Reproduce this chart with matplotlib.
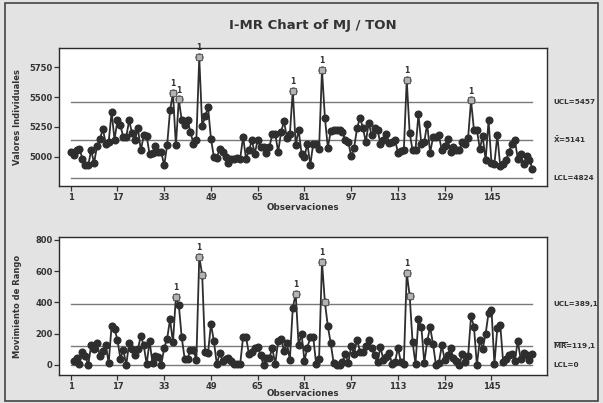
import numpy as np
import matplotlib
matplotlib.use("Agg")
import matplotlib.pyplot as plt
from matplotlib.patches import Rectangle

# ---------------------------------------------------------------
# data read off the I-MR chart (MJ / TON), 159 observations
# ---------------------------------------------------------------
mj_ton = [
    5040, 5013, 5060, 5068, 4985, 4929, 4929, 5054, 4949, 5088,
    5146, 5235, 5110, 5124, 5374, 5143, 5304, 5263, 5165, 5165,
    5304, 5199, 5138, 5240, 5054, 5179, 5174, 5021, 5032, 5088,
    5040, 5038, 4929, 5096, 5388, 5532, 5096, 5480, 5304, 5263,
    5304, 5207, 5110, 5140, 5832, 5254, 5338, 5415, 5152, 4999,
    4993, 5068, 5040, 4999, 4952, 4979, 4985, 4990, 4985, 5165,
    4985, 5054, 5138, 5027, 5143, 5082, 5082, 5035, 5082, 5188,
    5193, 5040, 5207, 5299, 5157, 5188, 5554, 5099, 5226, 5027,
    4999, 5110, 4932, 5110, 5104, 5068, 5726, 5326, 5077, 5215,
    5226, 5226, 5226, 5207, 5138, 5124, 5004, 5077, 5240, 5326,
    5243, 5124, 5285, 5179, 5243, 5226, 5110, 5143, 5193, 5118,
    5124, 5143, 5032, 5049, 5054, 5643, 5199, 5054, 5060, 5354,
    5110, 5124, 5276, 5032, 5165, 5165, 5179, 5054, 5088, 5149,
    5040, 5082, 5054, 5054, 5124, 5104, 5160, 5471, 5226, 5226,
    5068, 5171, 4971, 5304, 4949, 4943, 5179, 4921, 4938, 4977,
    5040, 5110, 5138, 4985, 5021, 4943, 5004, 4971, 4901,
]

# control limits printed on the chart
i_ucl, i_center, i_lcl = 5457, 5141, 4824
mr_ucl, mr_center, mr_lcl = 389.1, 119.1, 0

i_labels = ["UCL=5457", r"$\mathbf{\bar{X}}$=5141", "LCL=4824"]
mr_labels = ["UCL=389,1", r"$\mathbf{\overline{MR}}$=119,1", "LCL=0"]

x_ticks = [1, 17, 33, 49, 65, 81, 97, 113, 129, 145]
i_yticks = [5000, 5250, 5500, 5750]
mr_yticks = [0, 200, 400, 600, 800]

obs = np.arange(1, len(mj_ton) + 1)
vals = np.array(mj_ton, dtype=float)
# moving range of two consecutive observations
mr_obs = obs[1:]
mr_vals = np.abs(np.diff(vals))

plt.rcParams['font.family'] = 'DejaVu Sans'
plt.rcParams['mathtext.fontset'] = 'dejavusans'

bg = '#e3e3e3'
line_c = '#2e2e2e'
limit_c = '#7a7a7a'

fig = plt.figure(figsize=(6.03, 4.03), dpi=100, facecolor=bg)
W, H = 603.0, 403.0

def box(l, t, r, b):
    return [l / W, 1 - b / H, (r - l) / W, (b - t) / H]

ax1 = fig.add_axes(box(59, 48, 547, 186))
ax2 = fig.add_axes(box(59, 236.5, 547, 375))

def draw_panel(ax, x, y, ucl, center, lcl, labels, ylim, yticks):
    ax.set_facecolor('white')
    for lvl in (ucl, center, lcl):
        ax.plot([obs[0], obs[-1]], [lvl, lvl], color=limit_c, lw=1.0, zorder=1)
    ax.plot(x, y, color=line_c, lw=1.3, zorder=2)
    ax.plot(x, y, 'o', color=line_c, ms=4.8, zorder=3)
    bad = (y > ucl) | (y < lcl)
    ax.plot(x[bad], y[bad], 's', mfc='#b5b5b5', mec='#606060', mew=0.8, ms=4.2, zorder=4)
    prev = np.concatenate([[False], bad[:-1]])
    for xi, yi, b, p in zip(x, y, bad, prev):
        if b and not p:
            ax.annotate('1', (xi, yi), textcoords='offset points', xytext=(0, 3.5),
                        ha='center', va='bottom', fontsize=5.5, fontweight='bold',
                        color='#333333', zorder=5)
    ax.set_xlim(-3, 164)
    ax.set_ylim(*ylim)
    ax.set_xticks(x_ticks)
    ax.set_yticks(yticks)
    ax.tick_params(direction='out', length=3.5, width=0.9, labelsize=6, pad=1.2,
                   colors='#333333')
    for lab in ax.get_xticklabels() + ax.get_yticklabels():
        lab.set_fontweight('bold')
    for sp in ax.spines.values():
        sp.set_color('#2a2a2a')
        sp.set_linewidth(1.0)
    for lvl, txt in zip((ucl, center, lcl), labels):
        ax.annotate(txt, xy=(1.0, lvl), xycoords=('axes fraction', 'data'),
                    xytext=(4.5, 0), textcoords='offset points', ha='left', va='center',
                    fontsize=5.2, fontweight='bold', color='#333333',
                    annotation_clip=False)

draw_panel(ax1, obs, vals, i_ucl, i_center, i_lcl, i_labels, (4756, 5910), i_yticks)
draw_panel(ax2, mr_obs, mr_vals, mr_ucl, mr_center, mr_lcl, mr_labels, (-64, 822), mr_yticks)

fig.text(313 / W, 1 - 25 / H, 'I-MR Chart of MJ / TON', ha='center', va='center',
         fontsize=9.5, fontweight='bold', color='#333333')
fig.text(18 / W, 1 - 117 / H, 'Valores Individuales', rotation=90, ha='center',
         va='center', fontsize=6, fontweight='bold', color='#333333')
fig.text(18 / W, 1 - 306 / H, 'Movimiento de Rango', rotation=90, ha='center',
         va='center', fontsize=6, fontweight='bold', color='#333333')
fig.text(303 / W, 1 - 208 / H, 'Observaciones', ha='center', va='center',
         fontsize=6.3, fontweight='bold', color='#333333')
fig.text(303 / W, 1 - 393.5 / H, 'Observaciones', ha='center', va='center',
         fontsize=6.3, fontweight='bold', color='#333333')

# outer frame of the scanned figure
fig.patches.append(Rectangle((5 / W, 2.5 / H), 593 / W, 397.5 / H, transform=fig.transFigure,
                             fill=False, edgecolor='#444444', lw=1.2))

fig.savefig('out.png', dpi=100, facecolor=bg)
